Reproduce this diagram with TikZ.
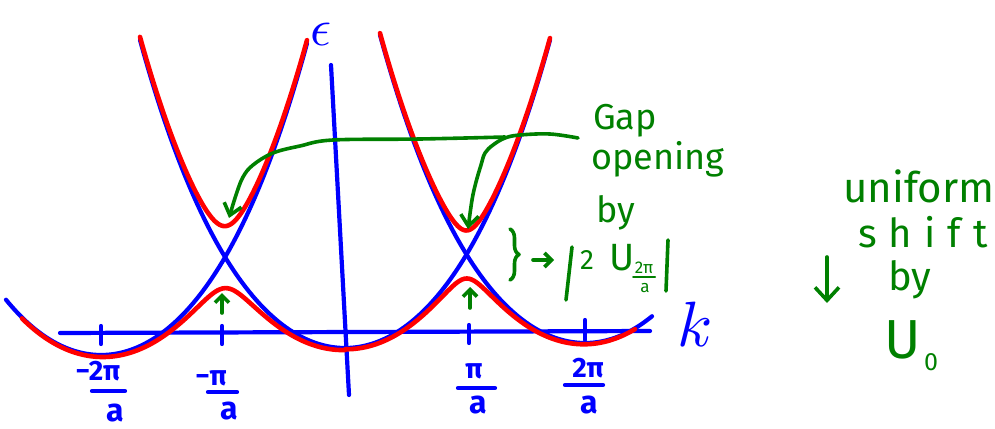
\documentclass[tikz,border=0pt]{standalone}
\usepackage{fontspec}
\usepackage{unicode-math}
\newfontfamily\hand{Fira Sans}
\newfontfamily\handsp[LetterSpace=30]{Fira Sans}
\usetikzlibrary{arrows.meta,decorations.pathreplacing}
\definecolor{pblue}{RGB}{0,0,255}
\definecolor{pred}{RGB}{255,0,0}
\definecolor{pgreen}{RGB}{0,128,0}
\begin{document}
\begin{tikzpicture}[x=1pt,y=-1pt,
  declare function={
    sqr(\zz)=\zz*\zz;
    rise(\uu)=57.94*\uu*\uu+3.652*\uu*\uu*\uu*\uu;
    pb(\xq,\cq,\mq)=\mq-rise((\xq-\cq)/100);
    lowb(\xp,\ca,\ma,\cb,\mb,\gp)=(pb(\xp,\ca,\ma)+pb(\xp,\cb,\mb))/2+100*sqrt(sqr((pb(\xp,\ca,\ma)-pb(\xp,\cb,\mb))/200)+sqr(\gp/100));
    upb(\xr,\cc,\mc,\cd,\md,\gr)=(pb(\xr,\cc,\mc)+pb(\xr,\cd,\md))/2-100*sqrt(sqr((pb(\xr,\cc,\mc)-pb(\xr,\cd,\md))/200)+sqr(\gr/100));
  },
  bluepen/.style={draw=pblue,line width=4.2pt,line cap=round,line join=round},
  redpen/.style={draw=pred,line width=4.6pt,line cap=round,line join=round},
  greenpen/.style={draw=pgreen,line width=3.6pt,line cap=round,line join=round},
  btext/.style={text=pblue,inner sep=0pt,font={\hand\bfseries\fontsize{28pt}{28pt}\selectfont}},
  atext/.style={text=pblue,inner sep=0pt,font={\hand\bfseries\fontsize{32pt}{32pt}\selectfont}},
  gtext/.style={text=pgreen,inner sep=0pt,anchor=base west},
]
\useasboundingbox (0,0) rectangle (995,428);

% free-electron parabolas
\draw[bluepen] plot[domain=140:550,samples=110] (\x,{pb(\x,345,348)});
\draw[bluepen] plot[domain=6:307,samples=90] (\x,{pb(\x,101,355)});
\draw[bluepen] plot[domain=380:652,samples=80] (\x,{pb(\x,585,343)});

% axes
\coordinate (kL) at (60,333);
\coordinate (kR) at (650,331);
\coordinate (eT) at (331,65);
\coordinate (eB) at (349,395);
\draw[bluepen] (kL) -- (kR);
\draw[bluepen] (eT) -- (eB);
\node[text=pblue,inner sep=0pt,anchor=base,font=\fontsize{52pt}{52pt}\selectfont] (eps) at (321,46) {$\epsilon$};
\node[text=pblue,inner sep=0pt,anchor=base,font=\fontsize{64pt}{64pt}\selectfont] (klab) at (695,346) {$k$};

% ticks
\draw[bluepen] (101,326) -- (101,344);
\draw[bluepen] (222,326) -- (222,344);
\draw[bluepen] (469,325) -- (469,343);
\draw[bluepen] (585,320) -- (585,340);

% tick labels
\node[btext,anchor=base] (n1) at (98,380) {−2π};
\draw[bluepen] (92,391) -- (125,391);
\node[atext,anchor=base] (d1) at (115,421) {a};
\node[btext,anchor=base] (n2) at (211,385) {−π};
\draw[bluepen] (208,392) -- (237,392);
\node[atext,anchor=base] (d2) at (229,419) {a};
\node[btext,anchor=base] (n3) at (474,378) {π};
\draw[bluepen] (458,388) -- (495,388);
\node[atext,anchor=base] (d3) at (478,413) {a};
\node[btext,anchor=base] (n4) at (588,377) {2π};
\draw[bluepen] (565,385) -- (603,385);
\node[atext,anchor=base] (d4) at (589,413) {a};

% bands with gaps
\draw[redpen] plot[domain=22:345,samples=130] (\x,{lowb(\x,101,355,345,348,31)})
  -- plot[domain=345:635,samples=120] (\x,{lowb(\x,345,348,585,343,24)});
\draw[redpen] plot[domain=140:307,samples=110] (\x,{upb(\x,101,355,345,348,31)});
\draw[redpen] plot[domain=380:550,samples=110] (\x,{upb(\x,345,348,585,343,24)});

% green annotations
\node[gtext,font={\hand\fontsize{36pt}{36pt}\selectfont}] (gap) at (593,129) {Gap};
\node[gtext,font={\hand\fontsize{36pt}{36pt}\selectfont}] (open) at (591,169) {opening};
\node[gtext,font={\hand\fontsize{36pt}{36pt}\selectfont}] (by1) at (596,222) {by};

\draw[greenpen,-{Straight Barb[length=11pt,width=18pt]}] plot[smooth,tension=0.6] coordinates
  {(505,137) (420,139) (333,140) (300,146) (273,153) (253,165) (243,177) (236,195) (229,218)};
\draw[greenpen,-{Straight Barb[length=11pt,width=18pt]}] plot[smooth,tension=0.6] coordinates
  {(578,138) (550,134) (520,135) (505,138) (493,145) (485,153) (481,165) (476,182) (472,200) (468,229)};

\draw[greenpen,-{Straight Barb[length=7pt,width=14pt]}] (222,313) -- (222,293);
\draw[greenpen,-{Straight Barb[length=7pt,width=14pt]}] (470,308) -- (470,287);

\draw[greenpen,decorate,decoration={brace,amplitude=9pt}] (510,229) -- (510,280);
\draw[greenpen,-{Straight Barb[length=7pt,width=14pt]}] (533,260) -- (554,260);
\draw[greenpen] (572,247) -- (566,300);
\draw[greenpen] (668,240) -- (666,291);
\node[gtext,font={\hand\fontsize{28pt}{28pt}\selectfont}] (two) at (580,269) {2};
\node[gtext,font={\hand\fontsize{38pt}{38pt}\selectfont}] (ugap) at (609,270) {U};
\node[gtext,anchor=base,font={\hand\fontsize{17pt}{17pt}\selectfont}] (sn) at (644,273) {2π};
\draw[greenpen,line width=2pt] (633,277) -- (655,277);
\node[gtext,anchor=base,font={\hand\fontsize{17pt}{17pt}\selectfont}] (sd) at (645,292) {a};

\node[gtext,font={\hand\fontsize{42pt}{42pt}\selectfont}] (uni) at (843,202) {uniform};
\node[gtext,font={\handsp\fontsize{40pt}{40pt}\selectfont}] (shift) at (858,247) {shift};
\node[gtext,font={\hand\fontsize{40pt}{40pt}\selectfont}] (by2) at (888,290) {by};
\node[gtext,font={\hand\fontsize{55pt}{55pt}\selectfont}] (u0) at (884,358) {U};
\node[gtext,font={\hand\fontsize{25pt}{25pt}\selectfont}] (u0s) at (924,370) {0};
\draw[greenpen,-{Straight Barb[length=13pt,width=24pt]}] (827,257) -- (827,303);
\end{tikzpicture}
\end{document}
